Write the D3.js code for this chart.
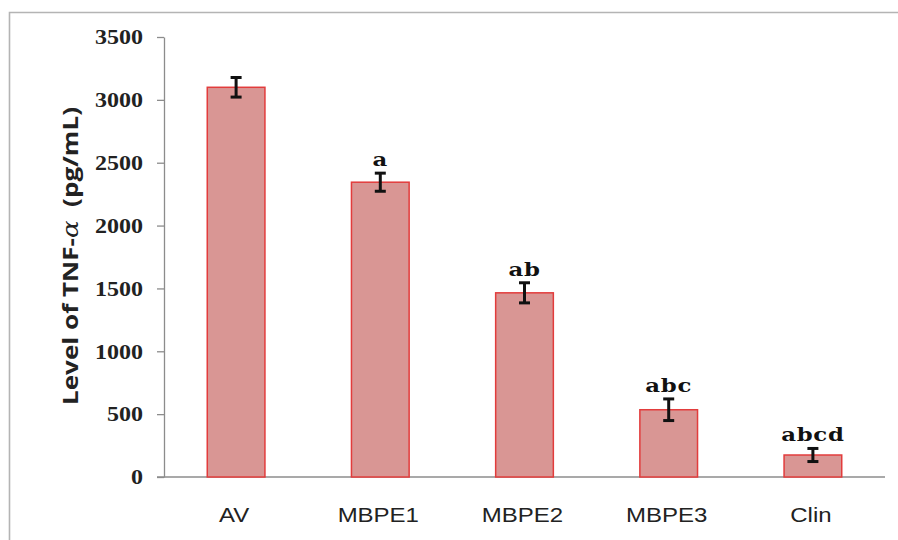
<!DOCTYPE html>
<html>
<head>
<meta charset="utf-8">
<script src="https://cdn.jsdelivr.net/npm/d3@7"></script>
<style>
  html, body { margin: 0; padding: 0; background: #fff; overflow: hidden; }
  svg { display: block; }
</style>
</head>
<body>
<svg id="chart" width="898" height="540"></svg>
<script>
// TNF-α levels per treatment group (pg/mL), with SD and significance letters
const groups = ["AV", "MBPE1", "MBPE2", "MBPE3", "Clin"];
const means = [3100, 2345, 1465, 535, 175];
const errors = [78, 72, 80, 86, 52];
const letters = ["", "a", "ab", "abc", "abcd"];
const yTicks = [0, 500, 1000, 1500, 2000, 2500, 3000, 3500];

const svg = d3.select("#chart");
const stretch = 1.2; // horizontally widened lettering

// plot frame (top and left edges)
svg.append("path")
  .attr("d", "M9.5,540V12.5H898")
  .attr("fill", "none").attr("stroke", "#b4b4b4").attr("stroke-width", 1.6);

const x = d3.scaleBand().domain(groups).range([164, 885])
  .paddingInner(0.6).paddingOuter(0.3);
const y = d3.scaleLinear().domain([0, 3500]).range([477, 37]);

// y axis
const yAxis = svg.append("g").attr("transform", "translate(164,0)")
  .call(d3.axisLeft(y).tickValues(yTicks).tickFormat(d3.format("d"))
    .tickSize(7).tickSizeOuter(0).tickPadding(0));
yAxis.select(".domain").attr("stroke", "#8c8c8c").attr("stroke-width", 1.3);
yAxis.selectAll(".tick line").attr("stroke", "#8c8c8c").attr("stroke-width", 1.3);
yAxis.selectAll(".tick text")
  .attr("x", null).attr("dy", "0.34em")
  .attr("transform", `translate(-21,0) scale(${stretch},1)`)
  .attr("font-family", "'Liberation Serif', 'Times New Roman', serif")
  .attr("font-weight", "bold").attr("font-size", 20).attr("fill", "#222");

// x axis baseline
svg.append("line")
  .attr("x1", 157).attr("x2", 885)
  .attr("y1", y(0)).attr("y2", y(0))
  .attr("stroke", "#8c8c8c").attr("stroke-width", 1.3);

// bars
svg.selectAll("rect.bar").data(groups).join("rect")
  .attr("class", "bar")
  .attr("x", d => x(d))
  .attr("y", (d, i) => y(means[i]))
  .attr("width", x.bandwidth())
  .attr("height", (d, i) => y(0) - y(means[i]))
  .attr("fill", "#d99694")
  .attr("stroke", "#e23c3c").attr("stroke-width", 1.5);

// error bars
const eb = svg.selectAll("g.err").data(groups).join("g").attr("class", "err")
  .attr("stroke", "#111").attr("stroke-width", 3);
eb.append("line")
  .attr("x1", d => x(d) + x.bandwidth() / 2).attr("x2", d => x(d) + x.bandwidth() / 2)
  .attr("y1", (d, i) => y(means[i] + errors[i])).attr("y2", (d, i) => y(means[i] - errors[i]));
eb.append("line")
  .attr("x1", d => x(d) + x.bandwidth() / 2 - 5.5).attr("x2", d => x(d) + x.bandwidth() / 2 + 5.5)
  .attr("y1", (d, i) => y(means[i] + errors[i])).attr("y2", (d, i) => y(means[i] + errors[i]));
eb.append("line")
  .attr("x1", d => x(d) + x.bandwidth() / 2 - 5.5).attr("x2", d => x(d) + x.bandwidth() / 2 + 5.5)
  .attr("y1", (d, i) => y(means[i] - errors[i])).attr("y2", (d, i) => y(means[i] - errors[i]));

// significance letters
svg.selectAll("text.sig").data(groups).join("text")
  .attr("class", "sig")
  .attr("transform", (d, i) =>
    `translate(${x(d) + x.bandwidth() / 2},${y(means[i] + errors[i]) - 7}) scale(${stretch},1)`)
  .attr("text-anchor", "middle")
  .attr("font-family", "'DejaVu Serif', serif")
  .attr("font-weight", "bold").attr("font-size", 19)
  .attr("letter-spacing", 0.6)
  .attr("fill", "#111")
  .text((d, i) => letters[i]);

// category labels
svg.selectAll("text.cat").data(groups).join("text")
  .attr("class", "cat")
  .attr("transform", d => `translate(${x(d) + x.bandwidth() / 2 - 2},${522}) scale(${stretch},1)`)
  .attr("text-anchor", "middle")
  .attr("font-family", "'Liberation Sans', Arial, sans-serif")
  .attr("font-size", 20).attr("fill", "#222")
  .text(d => d);

// y axis title
const title = svg.append("text")
  .attr("transform", "translate(78,256) rotate(-90)")
  .attr("text-anchor", "middle")
  .attr("font-family", "'Open Sans', 'Liberation Sans', sans-serif")
  .attr("font-weight", "bold").attr("font-size", 22).attr("fill", "#222")
  .attr("textLength", 298).attr("lengthAdjust", "spacingAndGlyphs");
title.append("tspan").text("Level of TNF-");
title.append("tspan").attr("font-family", "'DejaVu Serif', serif")
  .attr("font-style", "italic").attr("font-weight", "normal").text("α");
title.append("tspan").text("\u00a0\u00a0(pg/mL)");
</script>
</body>
</html>
